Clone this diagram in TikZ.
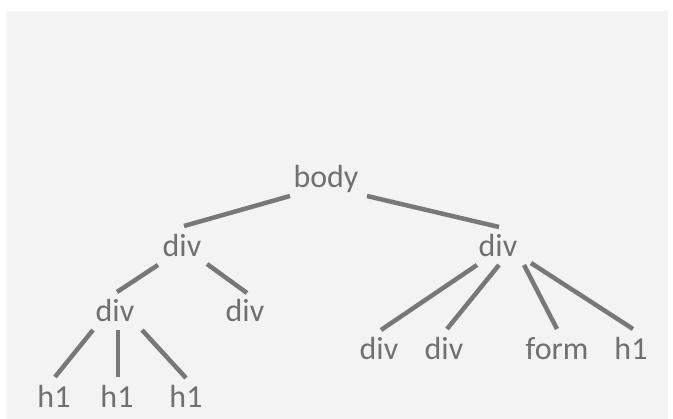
\documentclass[tikz,border=0pt]{standalone}
\usepackage{fontspec}
\setmainfont{Carlito}
\usetikzlibrary{calc}
\definecolor{paper}{HTML}{F3F3F3}
\definecolor{ink}{HTML}{707070}
\definecolor{edge}{HTML}{787878}
\tikzset{
  tag/.style={anchor=base, inner sep=0pt, text=ink, font=\fontsize{32}{36}\selectfont},
  branch/.style={draw=edge, line width=4.5pt},
}
\begin{document}
\begin{tikzpicture}[x=1pt, y=-1pt]
  % page and textured backdrop
  \useasboundingbox (0,0) rectangle (673,419);
  \fill[white] (0,0) rectangle (673,419);
  \fill[paper] (7,11) rectangle (668,419);

  % tags (placed on their baselines)
  \node[tag] (body) at (326,188) {body};
  \node[tag] (dl) at (182,257) {div};
  \node[tag] (dr) at (498,257) {div};
  \node[tag] (dll) at (115,322) {div};
  \node[tag] (dlr) at (245,322) {div};
  \node[tag] (ha) at (54,408) {h1};
  \node[tag] (hb) at (117,408) {h1};
  \node[tag] (hc) at (186,408) {h1};
  \node[tag] (da) at (379,360) {div};
  \node[tag] (db) at (444,360) {div};
  \node[tag] (fm) at (557,360) {form};
  \node[tag] (hd) at (631,360) {h1};

  % branches, measured from each tag's baseline
  \draw[branch] ($(body.base)+(-36,8)$) -- ($(dl.base)+(2,-31)$);
  \draw[branch] ($(body.base)+(41,8)$) -- ($(dr.base)+(1,-30)$);
  \draw[branch] ($(dl.base)+(-24,8)$) -- ($(dll.base)+(2,-30)$);
  \draw[branch] ($(dl.base)+(25,7)$) -- ($(dlr.base)+(2,-29)$);
  \draw[branch] ($(dll.base)+(-22,8)$) -- ($(ha.base)+(1,-31)$);
  \draw[branch] ($(dll.base)+(3,8)$) -- ($(hb.base)+(1,-31)$);
  \draw[branch] ($(dll.base)+(27,8)$) -- ($(hc.base)+(0,-30)$);
  \draw[branch] ($(dr.base)+(-21,8)$) -- ($(da.base)+(2,-30)$);
  \draw[branch] ($(dr.base)+(1,8)$) -- ($(db.base)+(3,-31)$);
  \draw[branch] ($(dr.base)+(26,8)$) -- ($(fm.base)+(0,-31)$);
  \draw[branch] ($(dr.base)+(33,6)$) -- ($(hd.base)+(2,-31)$);
\end{tikzpicture}
\end{document}
